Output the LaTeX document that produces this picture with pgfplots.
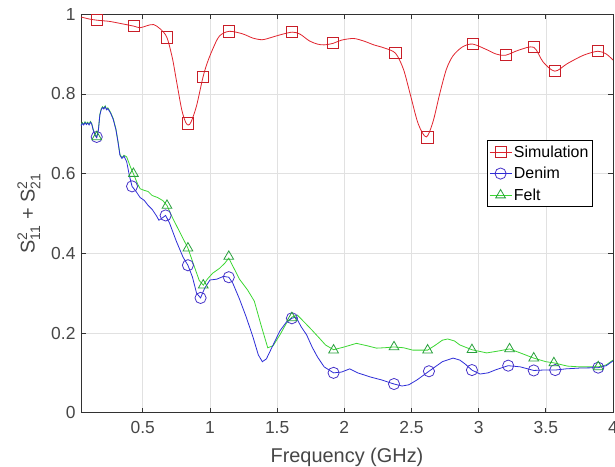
\documentclass[border=0pt]{standalone}
\usepackage{pgfplots}
\pgfplotsset{compat=1.18}
\usepackage{amsmath}
\usepackage{fontspec}
\setmainfont{Liberation Sans}
\definecolor{simc}{RGB}{225,35,45}
\definecolor{simm}{RGB}{200,30,40}
\definecolor{denc}{RGB}{45,45,215}
\definecolor{denm}{RGB}{70,50,200}
\definecolor{felc}{RGB}{60,215,50}
\definecolor{felm}{RGB}{40,160,60}
\definecolor{axc}{RGB}{50,50,50}
\definecolor{gridc}{RGB}{225,225,225}
\begin{document}
\begin{tikzpicture}
\begin{axis}[
  name=ax,
  scale only axis,
  width=532bp, height=398.5bp,
  xmin=0.04, xmax=4, ymin=0, ymax=1,
  xtick={0.5,1,1.5,2,2.5,3,3.5,4},
  ytick={0,0.2,0.4,0.6,0.8,1},
  yticklabels={0,0.2,0.4,0.6,0.8,1},
  xticklabels={0.5,1,1.5,2,2.5,3,3.5,4},
  tick align=inside,
  major tick length=5bp,
  grid=major,
  grid style={gridc, line width=0.6bp},
  axis line style={axc, line width=0.7bp},
  every tick/.style={axc, line width=0.7bp},
  tick label style={font=\fontsize{17.5}{20}\selectfont, text=axc!90},
  /pgf/number format/assume math mode=true,
  xticklabel style={yshift=-5bp},
  yticklabel style={xshift=-2bp},
  xlabel={Frequency (GHz)},
  xlabel style={font=\fontsize{20}{23}\selectfont, text=axc!90, yshift=-7.5bp},
  ylabel={S$^{\text{2}}_{\text{11}}$ + S$^{\text{2}}_{\text{21}}$},
  ylabel style={font=\fontsize{20}{23}\selectfont, text=axc!90, at={(axis description cs:-0.098,0.5)}, anchor=center, rotate=0},
  legend style={at={(axis description cs:0.962,0.684)}, anchor=north east,
    draw=black, line width=0.8bp, fill=white, font=\fontsize{16}{18}\selectfont,
    row sep=4.5bp, inner xsep=2bp, inner ysep=3bp},
  legend cell align=left,
  legend image code/.code={
    \draw[mark repeat=2,mark phase=2,#1] plot coordinates {(0bp,0bp) (11bp,0bp) (22bp,0bp)};
  },
]
\addlegendimage{simc, line width=0.8bp, mark=square, mark size=5.6bp, mark options={simm, solid}}
\addlegendentry{Simulation}
\addlegendimage{denc, line width=0.8bp, mark=o, mark size=5.6bp, mark options={denm, solid}}
\addlegendentry{Denim}
\addlegendimage{felc, line width=0.8bp, mark=triangle, mark size=5.6bp, mark options={felm, solid}}
\addlegendentry{Felt}

% Simulation curve
\addplot[simc, line width=0.8bp, smooth, tension=0.5, forget plot] coordinates {
(0.04,0.993) (0.10,0.988) (0.157,0.985) (0.25,0.982) (0.33,0.977) (0.433,0.970)
(0.48,0.966) (0.53,0.971) (0.58,0.974) (0.63,0.963) (0.679,0.942) (0.72,0.89)
(0.75,0.834) (0.79,0.76) (0.82,0.728) (0.84,0.722) (0.86,0.73) (0.90,0.77)
(0.948,0.842) (0.98,0.878) (1.02,0.912) (1.07,0.945) (1.142,0.957) (1.24,0.951)
(1.32,0.940) (1.39,0.936) (1.46,0.942) (1.52,0.948) (1.612,0.955) (1.67,0.950)
(1.74,0.933) (1.80,0.925) (1.85,0.923) (1.918,0.927) (1.98,0.935) (2.07,0.939)
(2.15,0.932) (2.22,0.923) (2.30,0.915) (2.381,0.902) (2.44,0.862) (2.49,0.80)
(2.55,0.725) (2.61,0.692) (2.66,0.73) (2.71,0.80) (2.76,0.862) (2.81,0.896)
(2.88,0.918) (2.955,0.925) (3.06,0.911) (3.13,0.900) (3.20,0.897) (3.30,0.910)
(3.41,0.917) (3.48,0.880) (3.567,0.857) (3.66,0.876) (3.78,0.897) (3.888,0.907)
(3.95,0.900) (4.0,0.885)
};
\addplot[only marks, mark=square, mark size=5.6bp, simm, line width=0.8bp, forget plot] coordinates {
(0.157,0.985) (0.433,0.970) (0.679,0.942) (0.836,0.726) (0.948,0.842) (1.142,0.957)
(1.612,0.955) (1.918,0.927) (2.381,0.902) (2.619,0.691) (2.955,0.925) (3.20,0.897)
(3.41,0.917) (3.567,0.857) (3.888,0.907)
};

% Felt curve
\addplot[felc, line width=0.8bp, forget plot] coordinates {
(0.04,0.722) (0.05,0.728) (0.06,0.724) (0.07,0.730) (0.08,0.725) (0.09,0.729)
(0.10,0.724) (0.11,0.731) (0.12,0.726) (0.13,0.712) (0.145,0.698) (0.157,0.692)
(0.17,0.712) (0.18,0.748) (0.19,0.762) (0.20,0.768) (0.21,0.764) (0.22,0.770)
(0.23,0.762) (0.24,0.765) (0.26,0.754) (0.28,0.738) (0.30,0.712) (0.315,0.682)
(0.33,0.648) (0.345,0.640) (0.36,0.646) (0.38,0.642) (0.41,0.615) (0.43,0.600)
(0.46,0.575) (0.48,0.562) (0.51,0.558) (0.54,0.555) (0.57,0.545) (0.61,0.540)
(0.65,0.532) (0.68,0.520) (0.72,0.490) (0.78,0.450) (0.836,0.413) (0.88,0.370)
(0.92,0.332) (0.95,0.320) (0.98,0.335) (1.02,0.350) (1.07,0.362) (1.11,0.375)
(1.14,0.388) (1.17,0.368) (1.22,0.335) (1.28,0.308) (1.33,0.280) (1.38,0.220)
(1.43,0.163) (1.47,0.168) (1.52,0.195) (1.57,0.225) (1.61,0.240) (1.65,0.245)
(1.70,0.228) (1.76,0.207) (1.82,0.185) (1.86,0.170) (1.92,0.158) (2.00,0.165)
(2.09,0.174) (2.17,0.168) (2.24,0.162) (2.30,0.163) (2.37,0.165) (2.44,0.163)
(2.51,0.157) (2.62,0.157) (2.68,0.170) (2.73,0.182) (2.77,0.185) (2.82,0.180)
(2.86,0.170) (2.95,0.158) (3.06,0.150) (3.15,0.155) (3.23,0.160) (3.31,0.150)
(3.41,0.137) (3.50,0.128) (3.56,0.125) (3.66,0.117) (3.75,0.115) (3.89,0.115)
(3.95,0.120) (4.0,0.132)
};
% Denim curve
\addplot[denc, line width=0.8bp, forget plot] coordinates {
(0.04,0.720) (0.05,0.726) (0.06,0.722) (0.07,0.728) (0.08,0.723) (0.09,0.727)
(0.10,0.722) (0.11,0.729) (0.12,0.724) (0.13,0.710) (0.145,0.696) (0.157,0.690)
(0.17,0.710) (0.18,0.746) (0.19,0.760) (0.20,0.766) (0.21,0.762) (0.22,0.768)
(0.23,0.760) (0.24,0.763) (0.26,0.752) (0.28,0.736) (0.30,0.710) (0.315,0.680)
(0.33,0.646) (0.345,0.638) (0.36,0.644) (0.38,0.630) (0.40,0.595) (0.42,0.568)
(0.45,0.555) (0.48,0.540) (0.51,0.533) (0.54,0.520) (0.57,0.510) (0.60,0.495)
(0.62,0.483) (0.65,0.490) (0.67,0.495) (0.70,0.475) (0.75,0.430) (0.80,0.390)
(0.836,0.370) (0.87,0.340) (0.90,0.300) (0.93,0.288) (0.96,0.312) (1.00,0.333)
(1.05,0.335) (1.10,0.342) (1.14,0.340) (1.17,0.325) (1.22,0.285) (1.27,0.240)
(1.32,0.190) (1.36,0.145) (1.39,0.128) (1.42,0.135) (1.47,0.170) (1.52,0.205)
(1.57,0.228) (1.61,0.237) (1.64,0.240) (1.68,0.215) (1.72,0.195) (1.76,0.165)
(1.80,0.140) (1.85,0.115) (1.92,0.100) (1.98,0.102) (2.04,0.110) (2.10,0.100)
(2.19,0.090) (2.28,0.082) (2.37,0.072) (2.43,0.067) (2.48,0.070) (2.54,0.082)
(2.63,0.104) (2.73,0.128) (2.81,0.137) (2.86,0.132) (2.90,0.122) (2.95,0.107)
(3.01,0.097) (3.07,0.100) (3.13,0.108) (3.22,0.118) (3.31,0.115) (3.41,0.106)
(3.48,0.107) (3.57,0.107) (3.65,0.110) (3.75,0.112) (3.89,0.113) (3.95,0.118)
(4.0,0.130)
};
\addplot[only marks, mark=o, mark size=5.6bp, denm, line width=0.8bp, forget plot] coordinates {
(0.157,0.692) (0.42,0.568) (0.67,0.495) (0.836,0.370) (0.93,0.288) (1.14,0.340)
(1.61,0.237) (1.92,0.100) (2.37,0.072) (2.63,0.104) (2.95,0.107) (3.22,0.118)
(3.41,0.106) (3.57,0.107) (3.89,0.113)
};
\addplot[only marks, mark=triangle, mark size=5.6bp, felm, line width=0.8bp, forget plot] coordinates {
(0.157,0.692) (0.43,0.600) (0.68,0.520) (0.836,0.413) (0.95,0.320) (1.14,0.392)
(1.61,0.238) (1.92,0.157) (2.37,0.165) (2.62,0.157) (2.95,0.158) (3.23,0.160)
(3.41,0.137) (3.56,0.125) (3.89,0.115)
};
\end{axis}
\pgfresetboundingbox
\path ([shift={(-81bp,-54.3bp)}]ax.south west) rectangle ([shift={(2bp,14.2bp)}]ax.north east);
\end{tikzpicture}
\end{document}
